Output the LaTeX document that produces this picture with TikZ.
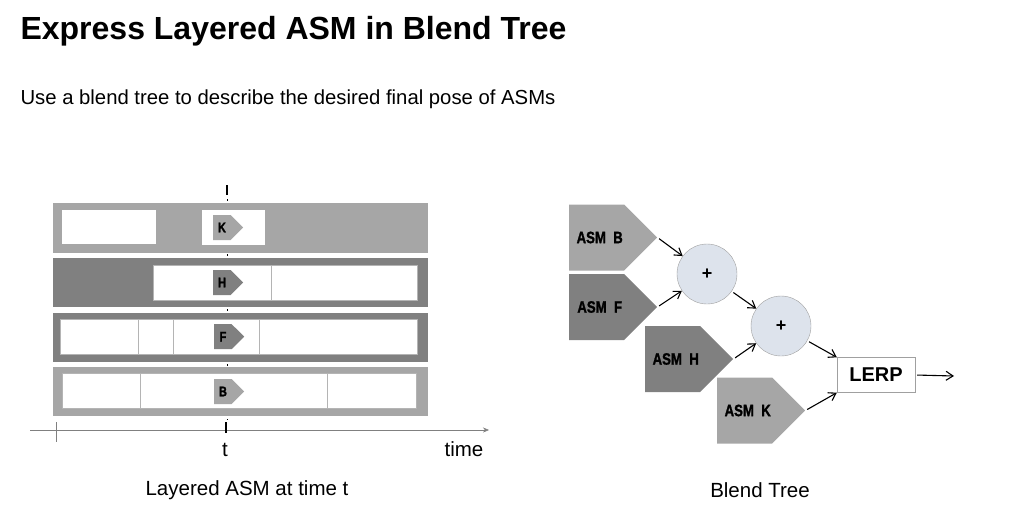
\documentclass[tikz,border=0pt]{standalone}
\usepackage{fontspec}
\setmainfont{Liberation Sans}
\newfontfamily\narrowfont[FakeStretch=0.8, FakeBold=1.2]{Liberation Sans}
\usetikzlibrary{shapes.geometric, shapes.symbols, arrows.meta}
\definecolor{lightbar}{HTML}{A6A6A6}
\definecolor{darkbar}{HTML}{808080}
\definecolor{sumfill}{HTML}{DDE3EC}
\definecolor{rimgray}{HTML}{A0A0A0}
\definecolor{cutgray}{HTML}{B4B4B4}

\begin{document}
\begin{tikzpicture}[x=1pt, y=-1pt,
	asm/.style={shape=signal, signal to=east, signal pointer angle=90, inner sep=0pt, minimum width=88, minimum height=66, font=\narrowfont\bfseries\fontsize{16.5}{16.5}\selectfont},
	tag/.style={shape=signal, signal to=east, signal pointer angle=90, inner sep=0pt, minimum width=30, minimum height=25, font=\narrowfont\bfseries\fontsize{14}{14}\selectfont},
	sum/.style={draw=rimgray, fill=sumfill, shape=circle, minimum size=60, inner sep=0pt, font=\bfseries\fontsize{18}{18}\selectfont},
	link/.style={-{Straight Barb[length=7pt, width=9pt]}, line width=1.1pt, shorten <=2pt},
	label/.style={font=\fontsize{20.5}{20.5}\selectfont}]

		\useasboundingbox (0,0) rectangle (1016,516);

		\node[anchor=base west, font=\bfseries\fontsize{32}{32}\selectfont] (title) at (17,40) {Express Layered ASM in Blend Tree};
		\node[anchor=base west, font=\fontsize{20.3}{20.3}\selectfont] (subtitle) at (17,104.5) {Use a blend tree to describe the desired final pose of ASMs};

		% time line at t, behind the layers
		\draw[line width=2.5pt] (227,185) -- (227,195);
		\draw[dash pattern=on 2pt off 9pt, line width=1pt] (227,199) -- (227,420);

		% layers
		\fill[lightbar] (53,203) rectangle (428,253);
		\fill[white] (62,210) rectangle (156,244);
		\fill[white] (202,210) rectangle (265,245);
		\fill[darkbar] (53,258) rectangle (428,307);
		\filldraw[white, draw=cutgray] (153,265) rectangle (417,300);
		\draw[cutgray] (271,265) -- (271,300);
		\fill[darkbar] (53,313) rectangle (428,362);
		\filldraw[white, draw=cutgray] (60,319) rectangle (417,354);
		\foreach \x in {138, 173, 259} \draw[cutgray] (\x,319) -- (\x,354);
		\fill[lightbar] (53,367) rectangle (428,416);
		\filldraw[white, draw=cutgray] (62,373) rectangle (416,408);
		\foreach \x in {140, 327} \draw[cutgray] (\x,373) -- (\x,408);

		\node[tag, fill=lightbar, anchor=west] (tagK) at (213,227.5) {K};
		\node[tag, fill=darkbar, anchor=west] (tagH) at (213,282.5) {H};
		\node[tag, fill=darkbar, anchor=west] (tagF) at (214,336.7) {F};
		\node[tag, fill=lightbar, anchor=west] (tagB) at (214,391.5) {B};

		% axis
		\coordinate (start) at (30,430);
		\coordinate (end) at (489,430);
		\draw[gray, -{Stealth[length=6pt, width=5pt]}] (start) -- (end);
		\draw[gray] (56,422) -- (56,442);
		\draw[line width=2.5pt] (226,422) -- (226,433);
		\node[label] (tlabel) at (225,450) {t};
		\node[label] (timelabel) at (464,449) {time};
		\node[label] (caption1) at (247,490) {Layered ASM at time t};

		% blend tree
		\node[asm, fill=lightbar, anchor=west] (asmB) at (569,237.5) {\hspace{6pt}ASM~~B};
		\node[asm, fill=darkbar, anchor=west] (asmF) at (569,307) {\hspace{6pt}ASM~~F};
		\node[asm, fill=darkbar, anchor=west] (asmH) at (645,359) {\hspace{6pt}ASM~~H};
		\node[asm, fill=lightbar, anchor=west] (asmK) at (717,410.5) {\hspace{6pt}ASM~~K};
		\node[sum] (sum1) at (707,274) {+};
		\node[sum] (sum2) at (781,326) {+};
		\node[draw=rimgray, fill=white, minimum width=78, minimum height=35, font=\bfseries\fontsize{20}{20}\selectfont] (lerp) at (876,375) {LERP};
		\coordinate (out) at (954,376);
		\node[label] (caption2) at (760,490) {Blend Tree};

		\draw[link] (asmB.east) -- (sum1);
		\draw[link] (asmF.east) -- (sum1);
		\draw[link] (sum1) -- (sum2);
		\draw[link] (asmH.east) -- (sum2);
		\draw[link] (sum2) -- (lerp.north west);
		\draw[link] (asmK.east) -- (lerp.south west);
		\draw[link] (lerp.east) -- (out);
	\end{tikzpicture}
\end{document}
